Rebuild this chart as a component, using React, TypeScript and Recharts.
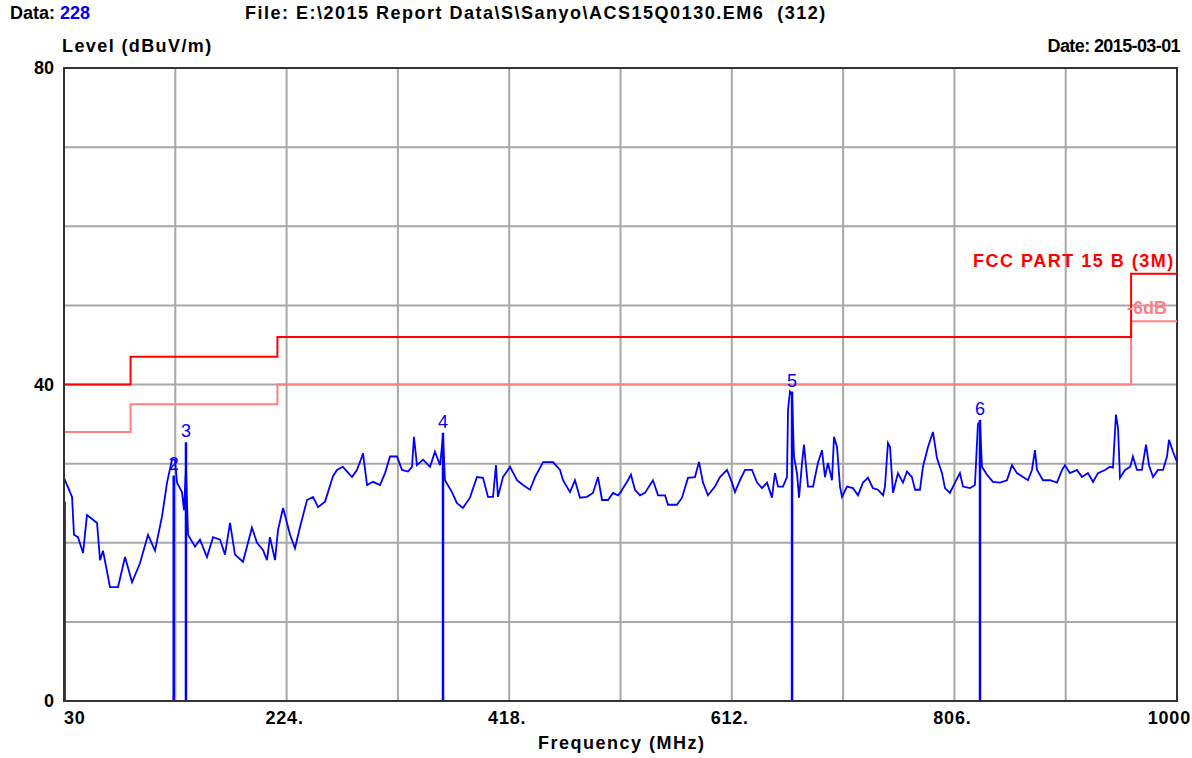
import React from "react"
import { LineChart, Line, XAxis, YAxis, CartesianGrid, ReferenceLine, ReferenceArea } from "recharts"

// scan trace (MHz / dBuV/m)
const traceFreq = [
  30, 33.5, 37, 38.7, 42.2, 46.6, 50, 55.3, 58.8, 61.4, 64, 70.1, 77.1, 83.2, 89.3, 96.2, 103.2, 109.3, 115.4, 119.8,
  124.1, 126.7, 128.5, 132.8, 134.6, 136.3, 138.1, 144.2, 148.5, 154.6, 159.9, 166, 170.3, 174.7, 179, 186, 193.8, 198.2,
  203.4, 206.9, 209.5, 213.9, 216.5, 220.9, 227, 231.3, 235.7, 241.8, 247, 251.4, 257.5, 264.4, 267.9, 273.1, 281, 285.3,
  289.7, 290.6, 294.1, 299.3, 305.4, 309.8, 314.1, 320.2, 324.6, 329.8, 333.3, 335, 337.6, 342.9, 349, 353.3, 357.7, 360.3,
  362, 368.1, 372.5, 377.7, 383.8, 389.9, 395.2, 399.5, 403.9, 406.5, 408.2, 412.6, 418.7, 424.8, 430, 436.1, 440.5, 447.5,
  456.2, 462.3, 464.9, 471, 475.3, 479.7, 485.8, 491, 495.4, 498.9, 504.1, 508.5, 512.8, 514.6, 521.5, 524.1, 527.6, 532,
  536.3, 543.3, 547.7, 553.8, 556.4, 564.2, 568.6, 573.8, 579.9, 583.4, 586.9, 591.2, 597.3, 601.7, 607.8, 612.2, 614.8,
  619.1, 623.5, 629.6, 634, 638.3, 642.7, 647, 649.6, 652.3, 656.6, 660.1, 661, 662.7, 664.5, 666.2, 668.8, 670.6, 673.2,
  674.9, 678.4, 682.8, 687.1, 690.6, 693.2, 695.8, 699.3, 701.1, 703.7, 706.3, 708.1, 712.4, 717.6, 722, 726.3, 730.7, 735,
  739.4, 743.8, 745.5, 748.1, 749.9, 752.5, 756.8, 761.2, 764.7, 769, 771.7, 776, 778.6, 783, 787.3, 790.8, 795.2, 797.8,
  802.1, 806.5, 810.8, 813.5, 819.6, 823.9, 826.5, 828.3, 830, 834.4, 839.6, 845.7, 851.8, 856.2, 860.5, 865.8, 870.1,
  873.6, 876.2, 878, 883.2, 889.3, 895.4, 899.8, 902.4, 906.7, 912.8, 917.2, 922.4, 926.8, 931.1, 937.2, 941.6, 944.2,
  946.8, 948.6, 950.3, 954.7, 959.2, 961.6, 965.1, 969.4, 973, 975.6, 979.1, 983.4, 987.8, 991.3, 993, 996.5, 1000,
]
const traceLevel = [
  28.2, 27, 25.8, 21, 20.7, 18.7, 23.5, 22.9, 22.5, 17.8, 19, 14.4, 14.4, 18.2, 15, 17.4, 21, 19, 23.3, 27.6,
  30.5, 30.5, 27.6, 26.4, 24.1, 29.5, 21, 19.5, 20.4, 18.2, 20.7, 20.4, 18.5, 22.5, 18.5, 17.6, 21.9, 20,
  19.1, 17.8, 20.7, 17.8, 21.6, 24.4, 21, 19.3, 22, 25.4, 25.8, 24.5, 25.2, 28.4, 29.2, 29.6, 28.3, 29.2,
  30.9, 31.3, 27.3, 27.7, 27.3, 28.8, 30.9, 30.9, 29.2, 29, 29.6, 33.4, 29.8, 30.5, 29.6, 31.5, 29.8, 33.5,
  27.9, 26.4, 25, 24.4, 25.7, 28.3, 28.2, 25.8, 25.8, 29.8, 25.8, 28.3, 29.6, 27.9, 27.3, 26.7, 28.3, 30.2,
  30.2, 29.2, 27.9, 26.4, 27.9, 25.7, 25.8, 26.3, 28.3, 25.4, 25.4, 26.3, 26, 26.3, 27.9, 28.6, 26.7, 26,
  26.3, 27.9, 26, 26, 24.8, 24.8, 25.7, 28.2, 28.3, 30.2, 27.6, 26, 27.1, 28.3, 29.2, 27.6, 26.4,
  27.9, 29.2, 29.2, 27.6, 26.9, 27.6, 25.7, 28.8, 27.1, 27.1, 28.3, 36.8, 39.1, 38.7, 30.9, 28.8, 25.7, 30.1,
  32.4, 27.1, 27.1, 30.1, 31.7, 28.3, 30.1, 27.9, 33.4, 32.1, 27.1, 25.8, 27.1, 26.9, 26, 27.6, 28.2, 26.9,
  26.7, 26, 27.1, 32.6, 32.1, 26.3, 28.8, 27.6, 29, 28.3, 26.7, 26.7, 29.6, 32.1, 34, 30.7, 28.8, 26.9,
  26.3, 27.6, 28.8, 27.1, 26.9, 27.3, 35, 35.3, 29.6, 28.6, 27.7, 27.6, 27.9, 29.8, 28.8, 28.3, 27.9,
  29.2, 31.7, 29.2, 27.9, 27.9, 27.6, 29.2, 29.8, 28.8, 29.2, 28.3, 28.8, 27.7, 28.8, 29.2, 29.6, 29.5,
  36.2, 34.5, 28.2, 29.2, 29.6, 30.9, 29.2, 29.2, 32.4, 29.8, 28.3, 29.2, 29.2, 30.9, 33, 31.5, 30.2,
]

// FCC Part 15 B (3M) limit and the -6dB margin line
const limitFreq = [30, 88, 216, 960, 1000]
const limitLevel = [40, 43.5, 46, 54, 54]
const marginLevel = [34, 37.5, 40, 48, 48]

// peak markers
const markerNo = ["", "2", "3", "4", "5", "6"]
const markerFreq = [30.5, 125.6, 136.3, 360.3, 664.5, 828.3]
const markerLevel = [25.2, 28.5, 32.7, 33.9, 39.1, 35.5]

const xTicks = [30, 127, 224, 321, 418, 515, 612, 709, 806, 903, 1000]
const xTickText = ["30", "", "224.", "", "418.", "", "612.", "", "806.", "", "1000"]
const yTicks = [0, 10, 20, 30, 40, 50, 60, 70, 80]
const yTickText = ["0", "", "", "", "40", "", "", "", "80"]

const trace = traceFreq.map((f, i) => ({ f, v: traceLevel[i] }))
const limit = limitFreq.map((f, i) => ({ f, v: limitLevel[i] }))
const margin = limitFreq.map((f, i) => ({ f, v: marginLevel[i] }))

const font = "'Liberation Sans', Arial, sans-serif"
const bold = { fontFamily: font, fontWeight: 700, fontSize: 18, whiteSpace: "pre" as const }

const XTick = (props: any) => {
  const { x, y, index } = props
  const txt = xTickText[index]
  if (!txt) return null
  const anchor = index === 0 ? "start" : index === xTicks.length - 1 ? "end" : "middle"
  const dx = index === 0 ? 0 : index === xTicks.length - 1 ? 14 : -2
  return (
    <text x={x + dx} y={y} dy={15} textAnchor={anchor} fill="#000" style={{ ...bold, letterSpacing: 0.8 }}>
      {txt}
    </text>
  )
}

const YTick = (props: any) => {
  const { x, y, index } = props
  const txt = yTickText[index]
  if (!txt) return null
  return (
    <text x={x - 2} y={y} dy={6} textAnchor="end" fill="#000" style={bold}>
      {txt}
    </text>
  )
}

export default function App() {
  return (
    <div style={{ position: "absolute", left: 0, top: 0, width: 1192, height: 758, background: "#fff" }}>
      <div style={{ position: "absolute", left: 10, top: 3, ...bold }}>
        Data: <span style={{ color: "#0000ff" }}>228</span>
      </div>
      <div style={{ position: "absolute", left: 245, top: 3, ...bold, letterSpacing: 1.5 }}>
        {"File: E:\\2015 Report Data\\S\\Sanyo\\ACS15Q0130.EM6  (312)"}
      </div>
      <div style={{ position: "absolute", left: 62, top: 36, ...bold, letterSpacing: 1.4 }}>Level (dBuV/m)</div>
      <div style={{ position: "absolute", right: 12, top: 36, ...bold, letterSpacing: -0.6 }}>Date: 2015-03-01</div>
      <div style={{ position: "absolute", left: 538, top: 733, ...bold, letterSpacing: 1.5 }}>Frequency (MHz)</div>

      <LineChart width={1192} height={758} data={trace} margin={{ top: 68, right: 15, bottom: 0, left: 0 }}>
        <CartesianGrid stroke="#a8a8a8" strokeWidth={2} horizontalValues={yTicks} verticalValues={xTicks} />
        <XAxis
          type="number"
          dataKey="f"
          domain={[30, 1000]}
          ticks={xTicks}
          tick={<XTick />}
          tickLine={false}
          axisLine={{ stroke: "#333", strokeWidth: 2 }}
          height={57}
          interval={0}
        />
        <YAxis
          type="number"
          domain={[0, 80]}
          ticks={yTicks}
          tick={<YTick />}
          tickLine={false}
          axisLine={{ stroke: "#333", strokeWidth: 2 }}
          width={64}
          interval={0}
        />
        <ReferenceArea x1={30} x2={1000} y1={0} y2={80} fill="none" stroke="#333" strokeWidth={2} />
        <Line data={margin} dataKey="v" type="stepAfter" stroke="#ff8080" strokeWidth={2} dot={false} isAnimationActive={false} />
        <Line data={limit} dataKey="v" type="stepAfter" stroke="#ff0000" strokeWidth={2} dot={false} isAnimationActive={false} />
        {markerFreq.map((f, i) => (
          <ReferenceLine
            key={i}
            segment={[{ x: f, y: 0 }, { x: f, y: markerLevel[i] }]}
            stroke="#0000ff"
            strokeWidth={2.5}
            label={markerNo[i] ? { value: markerNo[i], position: "top", fill: "#0000ff", fontSize: 18, fontFamily: font } : undefined}
          />
        ))}
        <Line dataKey="v" type="linear" stroke="#0000ff" strokeWidth={1.8} dot={false} isAnimationActive={false} />
      </LineChart>

      <div style={{ position: "absolute", left: 973, top: 251, color: "#ff0000", ...bold, letterSpacing: 1.5 }}>FCC PART 15 B (3M)</div>
      <div style={{ position: "absolute", left: 1127, top: 298, color: "#ff8080", ...bold }}>-6dB</div>
    </div>
  )
}
